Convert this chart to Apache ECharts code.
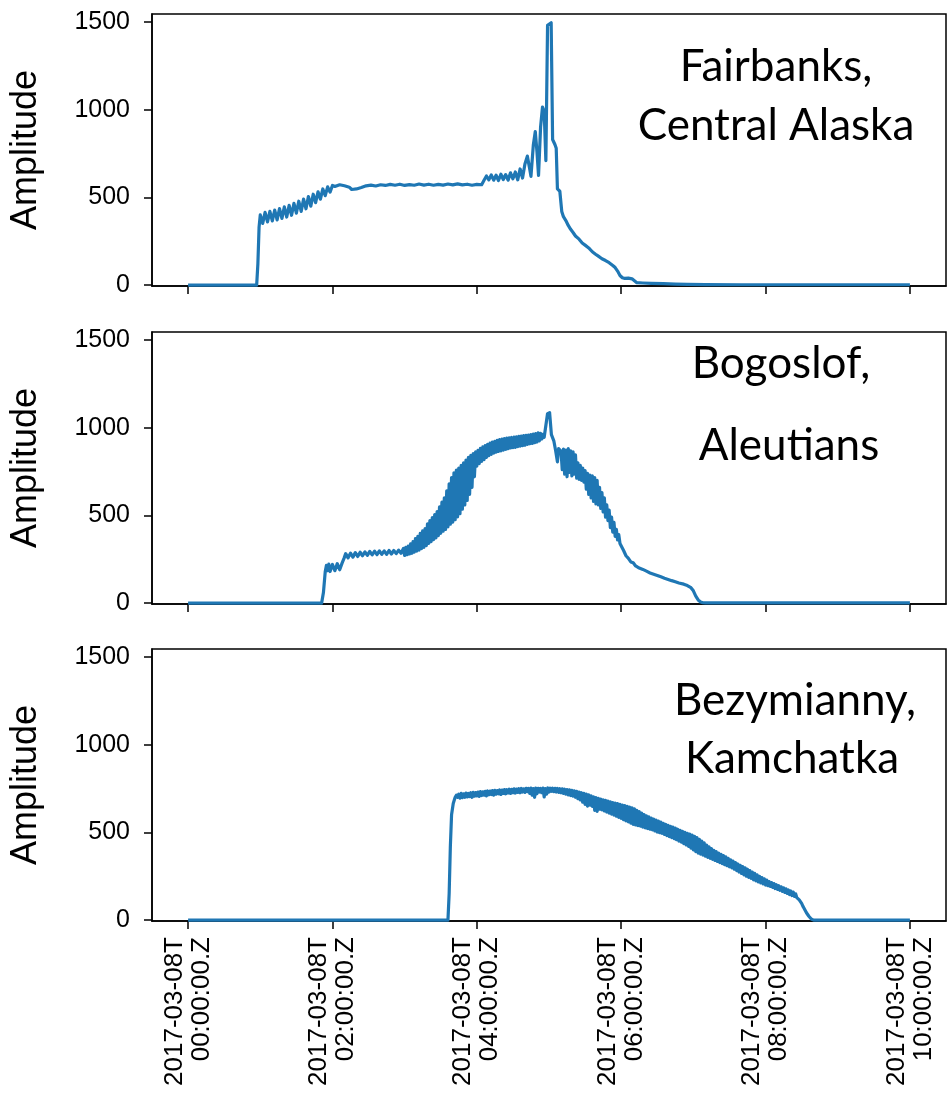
<!DOCTYPE html>
<html>
<head>
<meta charset="utf-8">
<script src="https://cdn.jsdelivr.net/npm/echarts@6/dist/echarts.min.js"></script>
<style>
  html, body { margin: 0; padding: 0; background: #fff; }
  #chart { width: 948px; height: 1103px; }
</style>
</head>
<body>
<div id="chart"></div>
<script>
// Sample times are minutes after 2017-03-08T00:00:00Z; amplitudes are in counts.

// Fairbanks, Central Alaska
const fairbanksMin = [
  0, 57, 58, 59, 60, 62, 64, 66, 68, 70, 72, 74, 76, 78, 80, 82, 84, 86, 88, 90, 92, 94, 96, 98, 100, 102, 104, 106, 108, 110, 112, 114, 116, 118, 120,
  122, 126, 130, 134, 136, 140, 144, 148, 152, 156, 160, 164, 168, 172, 176, 180, 184, 188, 192, 196, 200, 204, 208, 212, 216, 220, 224, 228, 232, 236, 240, 244,
  246, 248, 250, 252, 254, 256, 258, 260, 262, 264, 266, 268, 270, 272, 274, 276, 278, 280, 282,
  284, 285, 287, 288.6, 290, 291.3, 293, 294.6, 296, 297.4, 298.8, 301.8, 303, 305, 306, 307, 309, 310.6, 312, 314,
  316, 318, 320, 322, 325, 327.6, 330, 333, 336, 338.7, 341, 344, 347, 350, 353, 355, 357, 359, 361, 363,
  366, 369, 371, 373, 378, 385, 395, 405, 415, 430, 460, 500, 560, 600
];
const fairbanksAmp = [
  0, 0, 120, 330, 400, 352, 415, 360, 420, 366, 428, 372, 436, 380, 446, 388, 455, 398, 466, 410, 478, 420, 490, 435, 505, 450, 518, 470, 532, 490, 548, 510, 560, 530, 568,
  562, 572, 566, 558, 545, 548, 556, 566, 570, 565, 572, 568, 574, 569, 575, 568, 573, 569, 576, 570, 575, 569, 574, 570, 576, 571, 577, 571, 575, 569, 574, 572,
  598, 622, 600, 628, 598, 626, 596, 632, 602, 630, 598, 640, 606, 645, 600, 662, 610, 690, 735,
  660, 620, 800, 875, 760, 625, 900, 1015, 990, 710, 1480, 1495, 830, 800, 780, 548, 535, 420, 390, 368,
  340, 318, 300, 280, 262, 240, 228, 212, 190, 176, 165, 150, 140, 128, 112, 100, 80, 55, 42, 38,
  40, 36, 25, 14, 12, 10, 8, 6, 4, 3, 2, 2, 2, 2
];

// Bogoslof, Aleutians
const bogoslofMin = [
  0, 111, 112.5, 114, 115, 116, 117, 118, 120, 122, 124, 126, 128, 129.6,
  131, 133, 135, 137, 139, 141, 143, 145, 147, 149, 151, 153, 155, 157, 159, 161, 163, 165, 167, 169, 171, 173, 175, 177,
  179, 180, 181, 182, 183, 184, 185, 186, 187, 188,
  189, 190, 191, 192, 193, 194, 195, 196, 197, 198,
  199, 200, 201, 202, 203, 204, 205, 206, 207, 208,
  209, 210, 211, 212, 213, 214, 215, 216, 217, 218,
  219, 220, 221, 222, 223, 224, 225, 226, 227, 228,
  229, 230, 231, 232, 233, 234, 235, 236, 237, 238,
  239, 240, 241, 242, 243, 244, 245, 246, 247, 248,
  249, 250, 251, 252, 253, 254, 255, 256, 257, 258,
  259, 260, 261, 262, 263, 264, 265, 266, 267, 268,
  269, 270, 271, 272, 273, 274, 275, 276, 277, 278,
  279, 280, 281, 282, 283, 284, 285, 286, 287, 288,
  289, 290, 291, 292, 293, 294, 295, 296, 297,
  298.8, 300.5, 302, 304, 305.5, 307, 308,
  310, 311, 312, 313, 314, 315, 316, 317, 318, 319,
  320, 321, 322, 323, 324, 325, 326, 327, 328, 329,
  330, 331, 332, 333, 334, 335, 336, 337, 338, 339,
  340, 341, 342, 343, 344, 345, 346, 347, 348, 349,
  350, 351, 352, 353, 354, 355, 356, 357, 358, 359,
  360,
  362, 364, 366, 368, 370, 372, 375, 378, 381, 384, 387, 390, 393, 396, 399, 402, 405, 408, 412, 415, 418, 420, 422, 424, 426, 428, 430, 500, 600
];
const bogoslofAmp = [
  0, 0, 60, 180, 215, 185, 222, 180, 220, 185, 225, 190, 228, 255,
  282, 258, 285, 262, 288, 266, 290, 270, 292, 272, 295, 275, 296, 276, 298, 278, 298, 278, 300, 280, 300, 282, 302, 284,
  312, 272, 318, 276, 325, 280, 338, 284, 350, 290,
  368, 296, 380, 302, 398, 310, 412, 318, 425, 328,
  452, 340, 470, 350, 488, 362, 505, 372, 522, 385,
  548, 398, 575, 410, 600, 420, 640, 435, 680, 450,
  715, 462, 742, 475, 758, 492, 770, 510, 785, 535,
  800, 560, 815, 585, 830, 620, 842, 660, 852, 720,
  862, 780, 870, 795, 882, 808, 890, 818, 898, 830,
  905, 840, 912, 848, 918, 855, 922, 860, 928, 865,
  932, 868, 935, 872, 938, 876, 940, 880, 942, 884,
  944, 886, 946, 888, 948, 892, 950, 895, 952, 898,
  954, 900, 956, 905, 958, 908, 960, 910, 963, 914,
  966, 918, 970, 925, 968, 935, 962, 945, 955,
  1080, 1085, 960, 925, 870, 805, 880,
  865, 760, 878, 735, 872, 720, 880, 745, 868, 725,
  862, 735, 845, 712, 800, 705, 785, 700, 770, 690,
  755, 650, 740, 620, 730, 600, 725, 580, 715, 565,
  700, 560, 660, 540, 630, 520, 600, 490, 560, 470,
  530, 430, 490, 405, 460, 380, 420, 360, 390, 340,
  330,
  300, 270, 255, 235, 230, 212, 200, 192, 182, 172, 165, 158, 150, 142, 135, 128, 122, 115, 108, 100, 88, 70, 40, 18, 6, 2, 1, 1, 1
];

// Bezymianny, Kamchatka
const bezymiannyMin = [
  0, 216, 217, 218, 219, 220.4, 222, 223,
  224, 225, 226, 227, 228, 229, 230, 231, 232, 233,
  234, 235, 236, 237, 238, 239, 240, 241, 242, 243,
  244, 245, 246, 247, 248, 249, 250, 251, 252, 253,
  254, 255, 256, 257, 258, 259, 260, 261, 262, 263,
  264, 265, 266, 267, 268, 269, 270, 271, 272, 273,
  274, 275, 276, 277, 278, 279, 280, 281, 282, 283,
  284, 285, 286, 287, 288, 289, 290, 291, 292, 293,
  294, 295, 296, 297, 298, 299, 300, 301, 302, 303,
  304, 305, 306, 307, 308, 309, 310, 311, 312, 313,
  314, 315, 316, 317, 318, 319, 320, 321, 322, 323,
  324, 325, 326, 327, 328, 329, 330, 331, 332, 333,
  334, 335, 336, 337, 338, 339, 340, 341, 342, 343,
  344, 345, 346, 347, 348, 349, 350, 351, 352, 353,
  354, 355, 356, 357, 358, 359, 360, 361, 362, 363,
  364, 365, 366, 367, 368, 369, 370, 371, 372, 373,
  374, 375, 376, 377, 378, 379, 380, 381, 382, 383,
  384, 385, 386, 387, 388, 389, 390, 391, 392, 393,
  394, 395, 396, 397, 398, 399, 400, 401, 402, 403,
  404, 405, 406, 407, 408, 409, 410, 411, 412, 413,
  414, 415, 416, 417, 418, 419, 420, 421, 422, 423,
  424, 425, 426, 427, 428, 429, 430, 431, 432, 433,
  434, 435, 436, 437, 438, 439, 440, 441, 442, 443,
  444, 445, 446, 447, 448, 449, 450, 451, 452, 453,
  454, 455, 456, 457, 458, 459, 460, 461, 462, 463,
  464, 465, 466, 467, 468, 469, 470, 471, 472, 473,
  474, 475, 476, 477, 478, 479, 480, 481, 482, 483,
  484, 485, 486, 487, 488, 489, 490, 491, 492, 493,
  494, 495, 496, 497, 498, 499, 500, 501, 502, 503,
  504, 505, 506, 507, 508, 509, 510, 511, 512, 513,
  514, 515, 516, 517, 518, 519, 520,
  600
];
const bezymiannyAmp = [
  0, 0, 150, 420, 600, 665, 700, 712,
  700, 718, 695, 722, 698, 720, 700, 724, 702, 722,
  704, 726, 700, 728, 706, 727, 708, 730, 705, 732,
  710, 731, 712, 734, 708, 736, 714, 735, 716, 738,
  712, 740, 718, 738, 720, 742, 716, 741, 722, 744,
  720, 743, 724, 746, 722, 745, 726, 748, 724, 747,
  728, 749, 726, 750, 730, 748, 728, 751, 732, 750,
  722, 752, 712, 750, 700, 752, 720, 751, 730, 750,
  726, 752, 702, 750, 718, 753, 730, 752, 734, 752,
  732, 751, 730, 750, 728, 749, 726, 748, 722, 746,
  718, 744, 714, 742, 710, 740, 706, 737, 700, 734,
  692, 730, 685, 726, 672, 722, 660, 718, 650, 714,
  655, 708, 648, 702, 625, 698, 620, 694, 632, 690,
  628, 686, 622, 682, 616, 678, 610, 674, 604, 670,
  598, 667, 592, 664, 586, 660, 580, 656, 572, 652,
  566, 648, 560, 644, 552, 640, 546, 634, 542, 626,
  538, 618, 535, 610, 530, 602, 526, 594, 522, 588,
  518, 582, 514, 576, 508, 570, 502, 564, 498, 558,
  494, 552, 488, 546, 482, 540, 476, 535, 470, 530,
  464, 524, 458, 518, 450, 512, 444, 506, 436, 500,
  428, 494, 420, 490, 410, 485, 400, 478, 390, 470,
  382, 460, 376, 450, 370, 440, 364, 428, 358, 418,
  352, 408, 346, 398, 340, 390, 334, 382, 328, 375,
  322, 368, 316, 360, 310, 352, 304, 344, 298, 336,
  290, 328, 282, 320, 274, 312, 266, 305, 258, 298,
  250, 290, 244, 282, 238, 274, 230, 266, 224, 258,
  218, 250, 212, 242, 206, 235, 200, 228, 196, 220,
  192, 214, 186, 208, 180, 202, 175, 196, 170, 190,
  164, 184, 158, 178, 152, 172, 146, 166, 140, 160,
  135, 150, 128, 138, 115, 105, 95, 80, 68, 55,
  42, 32, 22, 12, 6, 2, 0,
  0
];

const stations = [
  { lines: ['Fairbanks,', 'Central Alaska'], min: fairbanksMin, amp: fairbanksAmp },
  { lines: ['Bogoslof,', 'Aleutians'], min: bogoslofMin, amp: bogoslofAmp },
  { lines: ['Bezymianny,', 'Kamchatka'], min: bezymiannyMin, amp: bezymiannyAmp }
];

const timeTicks = [0, 120, 240, 360, 480, 600];
const ampTicks = [0, 500, 1000, 1500];
const dayPrefix = '2017-03-08T';

// Panel geometry
const panelTop = [14, 332, 649];
const panelHeight = 272;
const plotLeft = 148;
const plotRight = 2;

// Station name placement inside each panel (line centres)
const namePlacement = [
  [[776, 67], [776, 126]],
  [[781, 364], [789, 446]],
  [[795, 701], [792, 759]]
];

const tickFont = 'Liberation Sans, Arial, sans-serif';
const lineColor = '#1f77b4';

function toPairs(t, v) {
  return t.map(function (x, i) { return [x, v[i]]; });
}

function timeLabel(m) {
  const h = Math.round(m / 60);
  const hh = (h < 10 ? '0' : '') + h;
  return dayPrefix + '\n' + hh + ':00:00.Z';
}

function ampLabel(v) {
  return String(v);
}

const grids = [], xAxes = [], yAxes = [], series = [], graphics = [];

stations.forEach(function (st, i) {
  grids.push({
    left: plotLeft, right: plotRight, top: panelTop[i], height: panelHeight,
    show: true, borderColor: '#000', borderWidth: 1.5, backgroundColor: 'transparent'
  });
  xAxes.push({
    gridIndex: i, type: 'value', min: -30, max: 630,
    axisLine: { show: true, onZero: false, lineStyle: { color: '#000', width: 1.5 } },
    axisTick: { show: true, length: 8, customValues: timeTicks, lineStyle: { color: '#000', width: 1.5 } },
    axisLabel: {
      show: i === stations.length - 1, customValues: timeTicks, rotate: 90,
      formatter: timeLabel, fontSize: 26, lineHeight: 27, fontFamily: tickFont, color: '#000', margin: 16
    },
    splitLine: { show: false }
  });
  yAxes.push({
    gridIndex: i, type: 'value', min: -5, max: 1545,
    name: 'Amplitude', nameLocation: 'middle', nameGap: 108,
    nameTextStyle: { fontSize: 36, fontFamily: tickFont, color: '#000' },
    axisLine: { show: true, onZero: false, lineStyle: { color: '#000', width: 1.5 } },
    axisTick: { show: true, length: 8, customValues: ampTicks, lineStyle: { color: '#000', width: 1.5 } },
    axisLabel: { customValues: ampTicks, formatter: ampLabel, fontSize: 25, fontFamily: tickFont, color: '#000', margin: 22 },
    splitLine: { show: false }
  });
  series.push({
    type: 'line', xAxisIndex: i, yAxisIndex: i,
    data: toPairs(st.min, st.amp),
    showSymbol: false, symbol: 'none', clip: true,
    lineStyle: { color: lineColor, width: 3.2, join: 'round' },
    emphasis: { disabled: true }
  });
  st.lines.forEach(function (txt, j) {
    graphics.push({
      type: 'text', x: namePlacement[i][j][0], y: namePlacement[i][j][1], silent: true,
      style: {
        text: txt, fill: '#000', font: '44px Lato, "Open Sans", sans-serif',
        align: 'center', verticalAlign: 'middle'
      }
    });
  });
});

const chart = echarts.init(document.getElementById('chart'), null, { renderer: 'canvas' });
chart.setOption({
  animation: false,
  backgroundColor: '#fff',
  grid: grids,
  xAxis: xAxes,
  yAxis: yAxes,
  series: series,
  graphic: graphics
});
</script>
</body>
</html>
